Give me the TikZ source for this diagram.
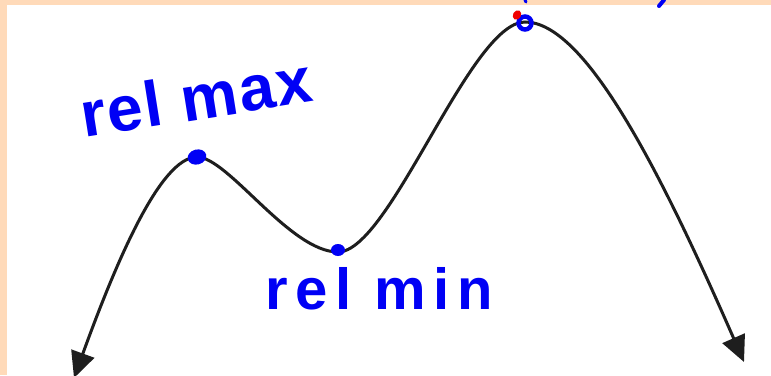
\documentclass[tikz,border=0pt]{standalone}
\usepackage{fontspec}
\setmainfont{Liberation Sans}
\newfontfamily\maxhand[LetterSpace=3]{Liberation Sans}
\newfontfamily\minhand[LetterSpace=13]{Liberation Sans}
\usetikzlibrary{arrows.meta, shapes.geometric}

\definecolor{peach}{RGB}{255,218,185}
\definecolor{inkblue}{RGB}{0,0,245}
\definecolor{inkred}{RGB}{240,0,0}
\definecolor{curvegray}{RGB}{30,30,30}

\begin{document}
\begin{tikzpicture}[x=1pt, y=-1pt,
      curve/.style={curvegray, line width=3pt,
          {Triangle[length=26pt, width=24pt]}-{Triangle[length=26pt, width=24pt]}},
      inkdot/.style={ellipse, fill=inkblue, draw=none, inner sep=0pt},
      hand/.style={text=inkblue, inner sep=0pt, anchor=base west},
    ]

    %% ── FRAME ───────────────────────────────────────────────────────────────
    \useasboundingbox (0,0) rectangle (771,375);
    \fill[peach] (0,0) rectangle (771,375);
    \fill[white] (7,5) rectangle (771,375);

    %% ── CURVE POINTS ────────────────────────────────────────────────────────
    \coordinate (lefttip)  at (74,378);
    \coordinate (relmaxpt) at (197,157);
    \coordinate (relminpt) at (338,252);
    \coordinate (peakpt)   at (525,22);
    \coordinate (righttip) at (744,362);

    \draw[curve] (lefttip)
      .. controls (115,265) and (160,157) .. (relmaxpt)
      .. controls (228,157) and (290,252) .. (relminpt)
      .. controls (390,252) and (470,22)  .. (peakpt)
      .. controls (585,22)  and (660,170) .. (righttip);

    %% ── MARKS ON THE CURVE ──────────────────────────────────────────────────
    \node[inkdot, minimum width=19pt, minimum height=15pt, rotate=15]
      (maxdot) at (197,157) {};
    \node[inkdot, minimum width=14pt, minimum height=12pt] (mindot) at (338,250) {};
    \node[circle, draw=inkblue, line width=4.5pt, minimum size=13pt,
          inner sep=0pt] (peakring) at (525,23) {};
    \node[ellipse, fill=inkred, minimum width=8pt, minimum height=10pt,
          inner sep=0pt, rotate=-30] (reddot) at (517,15) {};

    %% ── LABELS ──────────────────────────────────────────────────────────────
    \node[hand, rotate=9, font=\maxhand\bfseries\fontsize{64}{64}\selectfont]
      (relmax) at (84,138) {rel max};
    \node[hand, font=\minhand\bfseries\fontsize{58}{58}\selectfont]
      (relmin) at (265,309) {rel min};

    %% ── CUT-OFF STROKES AT THE TOP ──────────────────────────────────────────
    \draw[inkblue, line width=3pt, line cap=round] (525,0) -- (526,2);
    \draw[inkblue, line width=4pt, line cap=round] (664,0) -- (659,6);

  \end{tikzpicture}
\end{document}
